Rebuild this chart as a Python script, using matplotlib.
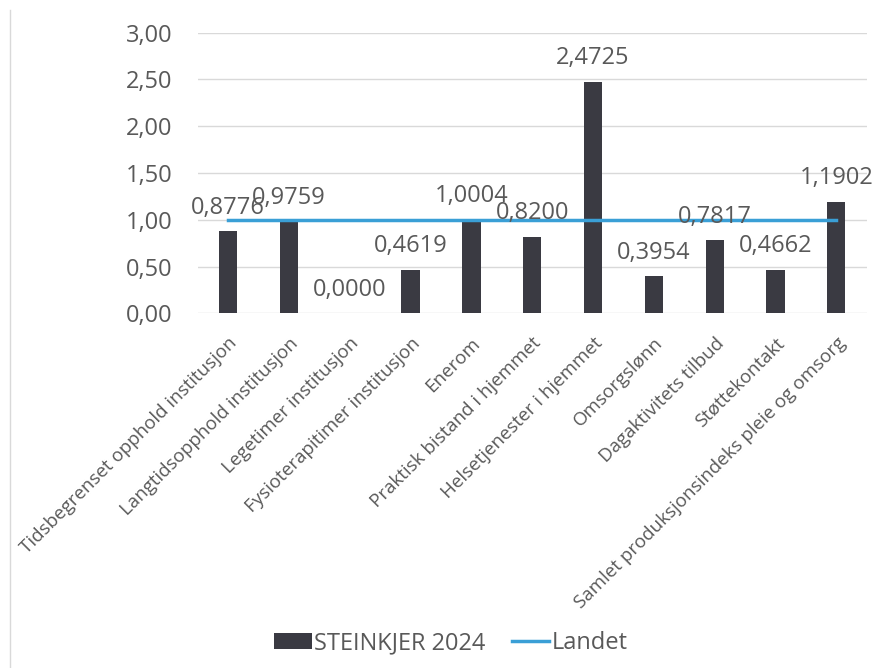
import matplotlib.pyplot as plt
from matplotlib.lines import Line2D

kategorier = ['Tidsbegrenset opphold institusjon', 'Langtidsopphold institusjon',
              'Legetimer institusjon', 'Fysioterapitimer institusjon', 'Enerom',
              'Praktisk bistand i hjemmet', 'Helsetjenester i hjemmet', 'Omsorgslønn',
              'Dagaktivitets tilbud', 'Støttekontakt',
              'Samlet produksjonsindeks pleie og omsorg']
steinkjer = [0.8776, 0.9759, 0.0000, 0.4619, 1.0004, 0.8200, 2.4725, 0.3954, 0.7817, 0.4662, 1.1902]
landet = [1.0] * 11
yticks = [0, 0.5, 1.0, 1.5, 2.0, 2.5, 3.0]

plt.rcParams['font.family'] = ['Open Sans', 'DejaVu Sans']
grey = '#595959'

fig = plt.figure(figsize=(8.79, 6.68), dpi=100)
ax = fig.add_axes([0.225, 0.531, 0.761, 0.42])

x = list(range(len(kategorier)))
bars = ax.bar(x, steinkjer, width=0.3, color='#3a3a42', label='STEINKJER 2024', zorder=2)
line, = ax.plot(x, landet, color='#3a9fd6', lw=2.5, label='Landet', zorder=3)

# data labels
for xi, v in zip(x, steinkjer):
    ax.annotate(('%.4f' % v).replace('.', ','), (xi, v), xytext=(0, 17),
                textcoords='offset points', ha='center', va='center',
                fontsize=17, color=grey, zorder=4)

ax.set_xlim(-0.5, len(kategorier) - 0.5)
ax.set_ylim(0, 3)
ax.set_yticks(yticks)
ax.set_yticklabels([('%.2f' % t).replace('.', ',') for t in yticks], fontsize=17, color=grey)
ax.set_xticks(x)
ax.set_xticklabels(kategorier, rotation=45, ha='right', rotation_mode='anchor',
                   fontsize=13.5, color=grey)
ax.tick_params(axis='x', length=0, pad=15)
ax.tick_params(axis='y', length=0, pad=18)
ax.grid(axis='y', color='#d9d9d9', lw=1, zorder=0)
for s in ax.spines.values():
    s.set_visible(False)

fig.legend([bars, line], ['STEINKJER 2024', 'Landet'], loc='lower center',
           bbox_to_anchor=(0.513, -0.013), ncol=2, frameon=False,
           fontsize=17, labelcolor=grey, handlelength=1.6, columnspacing=1.1,
           handletextpad=0.1)

# left frame line
fig.add_artist(Line2D([0.011, 0.011], [0.985, 0.0], color='#d9d9d9', lw=1))

plt.savefig('out.png')
